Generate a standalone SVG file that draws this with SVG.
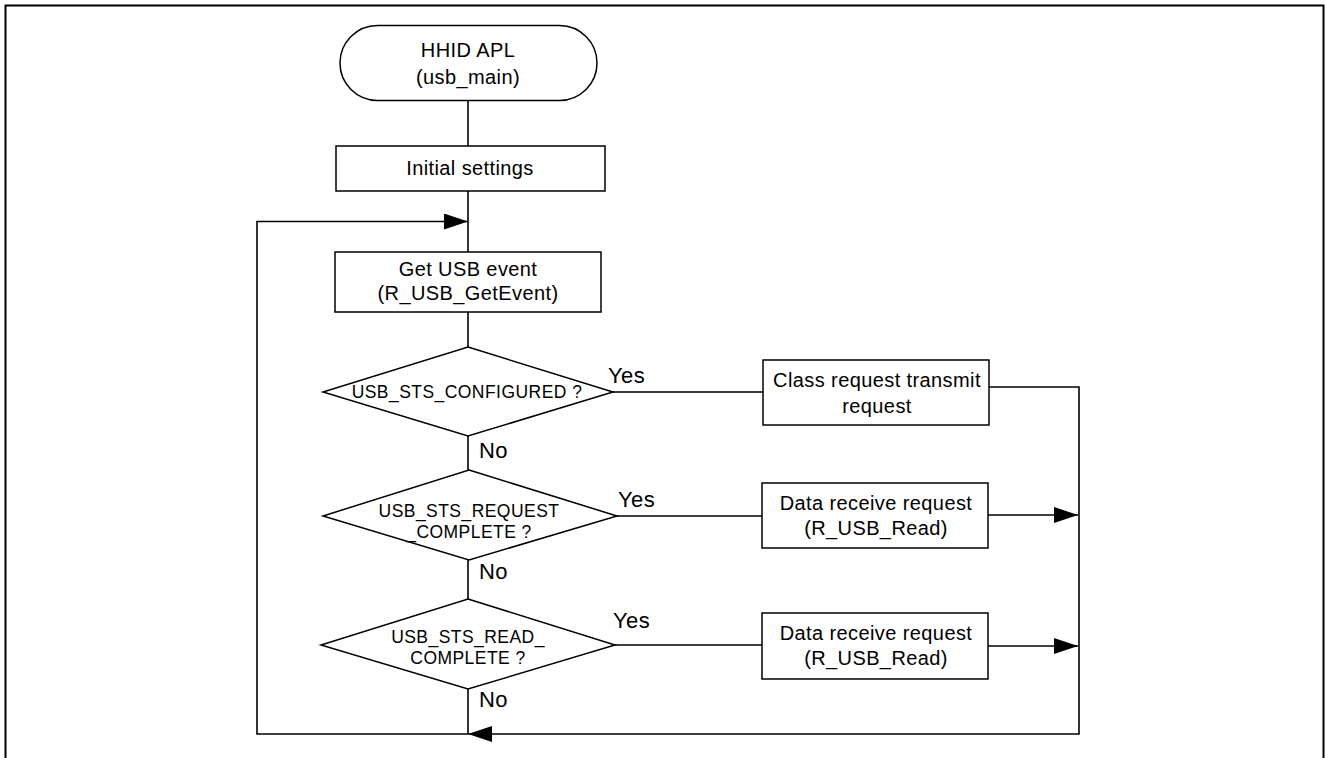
<svg xmlns="http://www.w3.org/2000/svg" width="1326" height="758" viewBox="0 0 1326 758">
<style>
.shape{fill:#fff;stroke:#000;stroke-width:1.5}
.conn{fill:none;stroke:#000;stroke-width:1.6}
.t{font-family:"Liberation Sans",Arial,sans-serif;font-size:20px;letter-spacing:0.4px;fill:#000;text-anchor:middle}
.d{font-family:"Liberation Sans",Arial,sans-serif;font-size:17.5px;letter-spacing:0.45px;fill:#000;text-anchor:middle}
.l{font-family:"Liberation Sans",Arial,sans-serif;font-size:22px;letter-spacing:0.4px;fill:#000}
</style>
<defs>
<marker id="ah" markerUnits="userSpaceOnUse" markerWidth="24" markerHeight="16" refX="24" refY="8" orient="auto">
<path d="M0,0 L24,8 L0,16 z" fill="#000"/>
</marker>
</defs>
<rect width="1326" height="758" fill="#fff"/>
<path d="M5.5,758 V5.5 H1323.5 V758" fill="none" stroke="#000" stroke-width="2"/>
<g id="connectors">
<path class="conn" d="M468,101 V146"/>
<path class="conn" d="M468,191 V252"/>
<path class="conn" d="M468,312 V347"/>
<path class="conn" d="M468,436 V470"/>
<path class="conn" d="M468,560 V599"/>
<path class="conn" d="M468,689 V734"/>
<path class="conn" d="M613,392 H763"/>
<path class="conn" d="M617,516 H762"/>
<path class="conn" d="M615,645 H762"/>
<path class="conn" d="M989,387 H1079 V734 H468" marker-end="url(#ah)"/>
<path class="conn" d="M468,734 H257 V221.5 H468" marker-end="url(#ah)"/>
<path class="conn" d="M988,515 H1078" marker-end="url(#ah)"/>
<path class="conn" d="M988,646 H1078" marker-end="url(#ah)"/>
<text class="l" x="608" y="383">Yes</text>
<text class="l" x="479" y="458">No</text>
<text class="l" x="618" y="507">Yes</text>
<text class="l" x="479" y="579">No</text>
<text class="l" x="613" y="628">Yes</text>
<text class="l" x="479" y="707">No</text>
</g>
<g id="start">
<rect class="shape" x="340" y="25.5" width="257" height="75" rx="37.5"/>
<text class="t" x="468" y="57">HHID APL</text>
<text class="t" x="468" y="84">(usb_main)</text>
</g>
<g id="init">
<rect class="shape" x="336" y="146" width="269" height="45"/>
<text class="t" x="470" y="175">Initial settings</text>
</g>
<g id="getevent">
<rect class="shape" x="335" y="252" width="266" height="60"/>
<text class="t" x="468" y="276">Get USB event</text>
<text class="t" x="468" y="300">(R_USB_GetEvent)</text>
</g>
<g id="dec1">
<polygon class="shape" points="468,347 613,392 468,436 323,392"/>
<text class="d" x="467" y="398">USB_STS_CONFIGURED ?</text>
</g>
<g id="dec2">
<polygon class="shape" points="469,470 617,516 469,560 323,516"/>
<text class="d" x="469" y="517">USB_STS_REQUEST</text>
<text class="d" x="469" y="538">_COMPLETE ?</text>
</g>
<g id="dec3">
<polygon class="shape" points="468,599 615,645 468,689 321,645"/>
<text class="d" x="468" y="643">USB_STS_READ_</text>
<text class="d" x="468" y="664">COMPLETE ?</text>
</g>
<g id="classreq">
<rect class="shape" x="763" y="360" width="226" height="65"/>
<text class="t" x="877" y="387">Class request transmit</text>
<text class="t" x="877" y="413">request</text>
</g>
<g id="read1">
<rect class="shape" x="762" y="483" width="226" height="65"/>
<text class="t" x="876" y="510">Data receive request</text>
<text class="t" x="876" y="535">(R_USB_Read)</text>
</g>
<g id="read2">
<rect class="shape" x="762" y="613" width="226" height="66"/>
<text class="t" x="876" y="640">Data receive request</text>
<text class="t" x="876" y="665">(R_USB_Read)</text>
</g>
</svg>
